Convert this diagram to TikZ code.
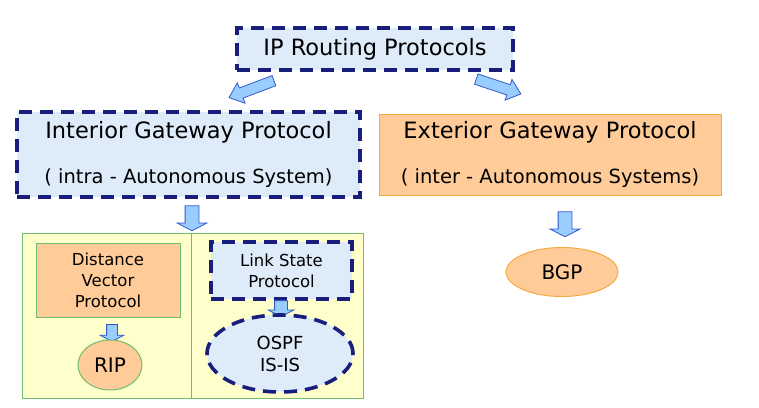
\documentclass[tikz,border=0pt]{standalone}
\usepackage{fontspec}
\setmainfont{DejaVu Sans}
\usetikzlibrary{shapes.geometric,shapes.arrows}

\definecolor{navy}{RGB}{25,30,125}
\definecolor{boxblue}{RGB}{222,236,250}
\definecolor{peach}{RGB}{255,204,153}
\definecolor{orangeline}{RGB}{245,170,60}
\definecolor{paleyellow}{RGB}{255,255,204}
\definecolor{greenline}{RGB}{110,190,110}
\definecolor{arrowfill}{RGB}{153,204,255}
\definecolor{arrowline}{RGB}{50,90,200}

\begin{document}
\begin{tikzpicture}[x=1pt,y=-1pt,
  blueframe/.style={draw=navy, line width=3.6pt, dash pattern=on 13pt off 8pt, fill=boxblue, align=center},
  peachbox/.style={draw=#1, line width=1pt, fill=peach, align=center},
  blockarrow/.style={single arrow, draw=arrowline, fill=arrowfill, line width=0.8pt,
    inner xsep=0pt, inner ysep=6.5pt, minimum height=#1, single arrow head extend=8pt,
    single arrow tip angle=125},
  bentarrow/.style={blockarrow=#1, inner ysep=5pt, single arrow head extend=5.5pt,
    single arrow tip angle=80},
  bigtext/.style={font=\fontsize{22.5}{27}\selectfont},
  smalltext/.style={font=\fontsize{16.5}{21}\selectfont}]

\useasboundingbox (0,0) rectangle (759,407);

% Draw the top box
\node [blueframe, bigtext, minimum width=276, minimum height=42] (iprp) at (375,49) {IP Routing Protocols};

% Draw the two gateway protocol boxes
\node [blueframe, bigtext, minimum width=343, minimum height=85] (igp) at (188.5,154.5)
  {Interior Gateway Protocol\\[18pt]\fontsize{19.5}{22}\selectfont ( intra - Autonomous System)};
\node [peachbox=orangeline, bigtext, minimum width=342, minimum height=81] (egp) at (550,154.5)
  {Exterior Gateway Protocol\\[18pt]\fontsize{19.5}{22}\selectfont ( inter - Autonomous Systems)};

\node [bentarrow=48, rotate=200.7] (a1) at (254.5,88) {};
\node [bentarrow=47, rotate=-18.4] (a2) at (495.5,85.5) {};

% Draw the interior side
\node [draw=greenline, line width=1pt, fill=paleyellow, minimum width=341, minimum height=165] (igpset) at (192.5,315.5) {};
\draw [greenline, line width=1pt] (igpset.north) ++(-1.5,0) coordinate (d1) -- (d1 |- igpset.south);
\node [blockarrow=25, rotate=-90] (a3) at (192,216.5) {};

\node [peachbox=greenline, smalltext, minimum width=144, minimum height=74] (dv) at (108,280) {Distance\\Vector\\Protocol};
\node [blockarrow=17, rotate=-90, inner ysep=5pt, single arrow head extend=6.5pt] (a4) at (112,331.5) {};
\node [ellipse, draw=greenline, line width=1pt, fill=peach, minimum width=64, minimum height=50,
  font=\fontsize{20}{24}\selectfont] (rip) at (110,365) {RIP};

\node [blueframe, smalltext, minimum width=141, minimum height=57] (ls) at (281.5,270.5) {Link State\\Protocol};
\node [blockarrow=16, rotate=-90, inner ysep=6pt, single arrow head extend=6.5pt] (a5) at (281,307) {};
\node [ellipse, blueframe, minimum width=146, minimum height=77,
  font=\fontsize{18}{22}\selectfont] (ospf) at (280,353.5) {OSPF\\IS-IS};

% Draw the exterior side
\node [blockarrow=25, rotate=-90] (a6) at (565,222.5) {};
\node [ellipse, draw=orangeline, line width=1pt, fill=peach, minimum width=112, minimum height=49,
  font=\fontsize{20}{24}\selectfont] (bgp) at (562,272) {BGP};

\end{tikzpicture}
\end{document}
